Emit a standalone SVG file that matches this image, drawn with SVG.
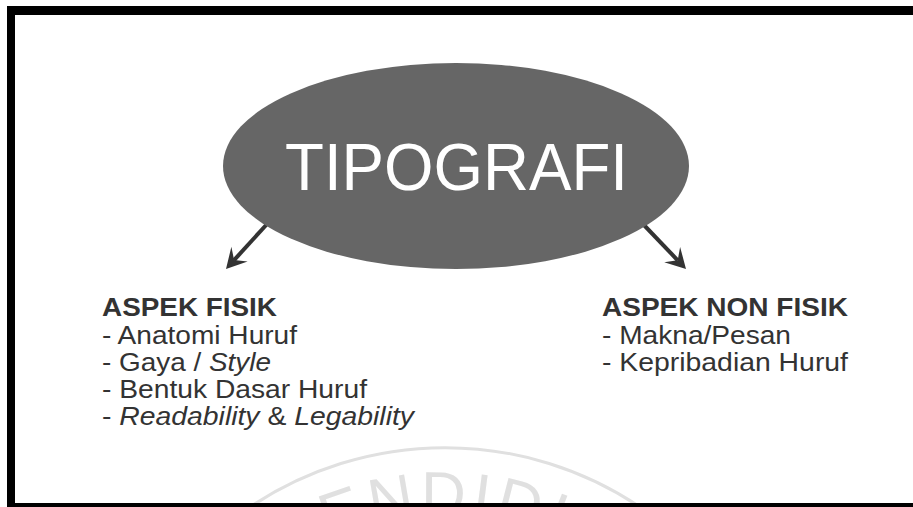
<svg xmlns="http://www.w3.org/2000/svg" width="913" height="507" viewBox="0 0 913 507">
  <style>
    .body { font-family: "Liberation Sans", Arial, sans-serif; font-size: 25px; fill: #333333; }
    .head { font-weight: bold; }
    .it { font-style: italic; }
    .conn { stroke: #333333; stroke-width: 4; fill: none; marker-end: url(#arrow); }
    .wm { fill: #e0e0e0; font-family: "Liberation Sans", Arial, sans-serif; font-size: 62px; }
  </style>
  <defs>
    <marker id="arrow" markerUnits="userSpaceOnUse" viewBox="-22 -13 24 26" refX="-12" refY="0" markerWidth="24" markerHeight="26" orient="auto">
      <path d="M0,0 L-20,-11 L-12,0 L-20,11 Z" fill="#333333"/>
    </marker>
    <path id="wmArc" d="M 155,805 A 290,290 0 0,1 735,805"/>
  </defs>

  <rect x="0" y="0" width="913" height="507" fill="#ffffff"/>

  <g id="watermark">
    <path d="M 250,507 A 350,350 0 0,1 640,507" fill="none" stroke="#e0e0e0" stroke-width="3"/>
    <text class="wm" letter-spacing="5"><textPath href="#wmArc" startOffset="50%" text-anchor="middle">PENDIDIK</textPath></text>
  </g>

  <g id="frame">
    <rect x="7" y="6" width="906" height="9" fill="#000000"/>
    <rect x="7" y="6" width="8" height="501" fill="#000000"/>
    <rect x="7" y="503" width="906" height="4" fill="#000000"/>
  </g>

  <g id="connectors">
    <line class="conn" x1="268" y1="223" x2="234.1" y2="260.1"/>
    <line class="conn" x1="642" y1="223" x2="677.7" y2="260.3"/>
  </g>

  <g id="node-tipografi">
    <ellipse cx="456" cy="166" rx="233" ry="103" fill="#666666"/>
    <text x="285" y="190" font-family="'Liberation Sans', Arial, sans-serif" font-size="67" fill="#ffffff" textLength="343" lengthAdjust="spacingAndGlyphs">TIPOGRAFI</text>
  </g>

  <g id="node-aspek-fisik">
    <text class="body head" x="102" y="316" textLength="175" lengthAdjust="spacingAndGlyphs">ASPEK FISIK</text>
    <text class="body" x="102" y="344" textLength="195" lengthAdjust="spacingAndGlyphs">- Anatomi Huruf</text>
    <text class="body" x="102" y="371" textLength="169" lengthAdjust="spacingAndGlyphs">- Gaya / <tspan class="it">Style</tspan></text>
    <text class="body" x="102" y="398" textLength="265" lengthAdjust="spacingAndGlyphs">- Bentuk Dasar Huruf</text>
    <text class="body" x="102" y="425" textLength="312" lengthAdjust="spacingAndGlyphs">- <tspan class="it">Readability</tspan> &amp; <tspan class="it">Legability</tspan></text>
  </g>

  <g id="node-aspek-non-fisik">
    <text class="body head" x="602" y="316" textLength="246" lengthAdjust="spacingAndGlyphs">ASPEK NON FISIK</text>
    <text class="body" x="602" y="344" textLength="189" lengthAdjust="spacingAndGlyphs">- Makna/Pesan</text>
    <text class="body" x="602" y="371" textLength="246" lengthAdjust="spacingAndGlyphs">- Kepribadian Huruf</text>
  </g>
</svg>
